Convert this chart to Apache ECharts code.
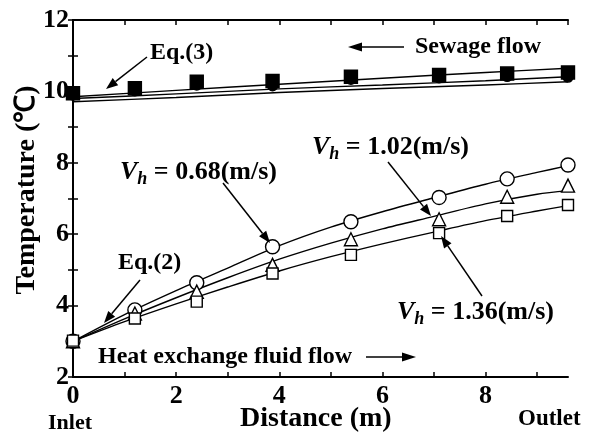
<!DOCTYPE html>
<html><head><meta charset="utf-8">
<script src="https://cdn.jsdelivr.net/npm/echarts@6/dist/echarts.min.js"></script>
<style>html,body{margin:0;padding:0;background:#fff}#c{width:598px;height:441px}</style>
</head><body><div id="c"></div>
<script>
// ---- data ----
const distMarkers = [0, 1.2, 2.4, 3.87, 5.39, 7.1, 8.42, 9.6];
const fluid068 = [3.0, 3.88, 4.64, 5.65, 6.35, 7.03, 7.55, 7.94];
const fluid102 = [3.0, 3.78, 4.39, 5.14, 5.86, 6.42, 7.05, 7.36];
const fluid136 = [3.02, 3.64, 4.11, 4.9, 5.42, 6.03, 6.51, 6.82];
const sewageSq = [9.95, 10.09, 10.27, 10.29, 10.41, 10.46, 10.5, 10.53];
const sewageCi = [9.9, 10.02, 10.18, 10.16, 10.34, 10.38, 10.42, 10.4];

const distCurve = [0, 1, 2, 3, 4, 5, 6, 7, 8, 9, 9.6];
const eq2_068 = [3.0, 3.75, 4.42, 5.05, 5.68, 6.2, 6.63, 7.02, 7.4, 7.73, 7.92];
const eq2_102 = [3.0, 3.63, 4.22, 4.78, 5.3, 5.75, 6.15, 6.5, 6.85, 7.12, 7.22];
const eq2_136 = [3.0, 3.55, 4.05, 4.52, 4.97, 5.37, 5.73, 6.06, 6.38, 6.65, 6.8];

const distSewage = [0, 2, 4, 6, 8, 9.6];
const eq3_a = [9.85, 10.03, 10.2, 10.37, 10.53, 10.65];
const eq3_b = [9.8, 9.93, 10.07, 10.18, 10.3, 10.41];
const eq3_c = [9.71, 9.83, 9.97, 10.08, 10.18, 10.27];

const xMin = 0, xMax = 9.6, yMin = 2, yMax = 12;

// ---- chart ----
const F = 'Liberation Serif';
const chart = echarts.init(document.getElementById('c'));
const zip = (xs, ys) => xs.map((x, i) => [x, ys[i]]);

function curve(xs, ys, w) {
  return { type: 'line', data: zip(xs, ys), smooth: 0.3, showSymbol: false, symbol: 'none',
    clip: false, lineStyle: { color: '#000', width: w || 1.4 }, z: 2, silent: true };
}
function marks(ys, sym, size, filled, z) {
  return { type: 'scatter', data: zip(distMarkers, ys), symbol: sym, symbolSize: size, clip: false,
    itemStyle: { color: filled ? '#000' : '#fff', borderColor: '#000', borderWidth: 1.4, opacity: 1 }, z: z || 3 };
}

function arrow(x1, y1, x2, y2, head) {
  const a = Math.atan2(y2 - y1, x2 - x1), L = head || 12, W = 4.5;
  const bx = x2 - L * Math.cos(a), by = y2 - L * Math.sin(a);
  const px = -Math.sin(a) * W, py = Math.cos(a) * W;
  return [
    { type: 'line', shape: { x1, y1, x2: bx, y2: by }, style: { stroke: '#000', lineWidth: 1.5 }, z: 10 },
    { type: 'polygon', shape: { points: [[x2, y2], [bx + px, by + py], [bx - px, by - py]] }, style: { fill: '#000' }, z: 10 }
  ];
}
function txt(x, y, text, size, extra) {
  return Object.assign({ type: 'text', x, y, z: 10,
    style: { text, font: 'bold ' + size + 'px "' + F + '"', fill: '#000', textVerticalAlign: 'middle' } }, extra || {});
}
function vh(x, y, val) {
  return { type: 'text', x, y, z: 10, style: {
    text: '{v|V}{h|h}{t| = ' + val + '(m/s)}', textVerticalAlign: 'middle',
    rich: {
      v: { fontFamily: F, fontWeight: 'bold', fontStyle: 'italic', fontSize: 26, fill: '#000' },
      h: { fontFamily: F, fontWeight: 'bold', fontStyle: 'italic', fontSize: 18, fill: '#000', padding: [14, 0, 0, 0] },
      t: { fontFamily: F, fontWeight: 'bold', fontSize: 26, fill: '#000' }
    } } };
}

const axisLine = { show: true, lineStyle: { color: '#000', width: 2 } };
const tick = { show: true, inside: true, length: 5, lineStyle: { color: '#000', width: 1.5 } };

const graphics = [].concat(
  txt(150, 53, 'Eq.(3)', 24), arrow(147, 57, 106, 89),
  txt(415, 47, 'Sewage flow', 24), arrow(404, 47, 348, 47, 14),
  vh(120, 172, '0.68'), arrow(223, 183, 270, 243),
  vh(312, 147, '1.02'), arrow(388, 162, 431, 216),
  vh(397, 312, '1.36'), arrow(482, 296, 441, 236),
  txt(118, 263, 'Eq.(2)', 24), arrow(140, 280, 104, 323),
  txt(98, 357, 'Heat exchange fluid flow', 24), arrow(366, 357, 416, 357, 14),
  txt(48, 423, 'Inlet', 22),
  txt(518, 419, 'Outlet', 23),
  txt(240, 419, 'Distance (m)', 28),
  txt(27, 190, 'Temperature (\u2103)', 28, { rotation: Math.PI / 2, style: { text: 'Temperature (\u2103)', font: 'bold 28px "' + F + '"', fill: '#000', textAlign: 'center', textVerticalAlign: 'middle' } })
);

chart.setOption({
  animation: false,
  backgroundColor: '#fff',
  grid: { left: 73, right: 30, top: 20, bottom: 64 },
  xAxis: [
    { type: 'value', min: xMin, max: xMax, interval: 1, position: 'bottom', axisLine, axisTick: tick,
      splitLine: { show: false },
      axisLabel: { margin: 6, color: '#000', fontFamily: F, fontWeight: 'bold', fontSize: 26, showMaxLabel: false,
        formatter: v => (Math.abs(v % 2) < 1e-9 ? String(v) : '') } },
    { type: 'value', min: xMin, max: xMax, interval: 1, position: 'top', axisLine, axisTick: tick,
      splitLine: { show: false }, axisLabel: { show: false } }
  ],
  yAxis: [
    { type: 'value', min: yMin, max: yMax, interval: 1, position: 'left', axisLine, axisTick: tick,
      splitLine: { show: false },
      axisLabel: { margin: 4, color: '#000', fontFamily: F, fontWeight: 'bold', fontSize: 26,
        formatter: v => (v % 2 === 0 ? String(v) : '') } },
    { type: 'value', min: yMin, max: yMax, interval: 1, position: 'right', axisLine, axisTick: tick,
      splitLine: { show: false }, axisLabel: { show: false } }
  ],
  series: [
    curve(distSewage, eq3_a), curve(distSewage, eq3_b), curve(distSewage, eq3_c),
    curve(distCurve, eq2_068), curve(distCurve, eq2_102), curve(distCurve, eq2_136),
    marks(sewageCi, 'circle', 10, true, 3),
    marks(sewageSq, 'rect', 13, true, 4),
    marks(fluid068, 'circle', 14, false, 3),
    marks(fluid102, 'triangle', 13, false, 4),
    marks(fluid136, 'rect', 11, false, 5)
  ],
  graphic: graphics
});
</script>
</body></html>
